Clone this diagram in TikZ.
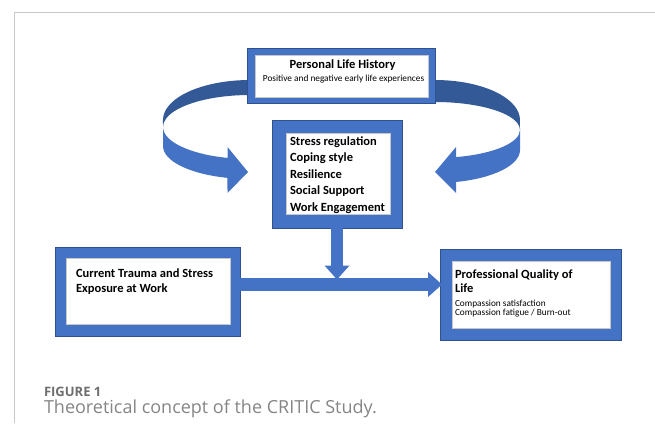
\documentclass[tikz,border=0pt]{standalone}
\usepackage{fontspec}
\setmainfont{Carlito}
\newfontfamily\capfont{Open Sans}
\usetikzlibrary{arrows.meta,calc}
\definecolor{boxblue}{HTML}{4472C4}
\definecolor{edgeblue}{HTML}{2F528F}
\definecolor{backblue}{HTML}{335A97}
\definecolor{framegray}{HTML}{C8C8C8}
\definecolor{capdark}{HTML}{6E6E6E}
\definecolor{caplight}{HTML}{858585}
\begin{document}
\begin{tikzpicture}[x=1pt,y=-1pt,
  outerbox/.style={fill=boxblue, draw=edgeblue, line width=0.6pt, inner sep=0pt, outer sep=0pt},
  innerbox/.style={fill=white, draw=black!22, line width=0.4pt, inner sep=0pt, outer sep=0pt},
  bigarrow/.style={draw=boxblue, line width=13pt, -{Triangle[width=25pt,length=14pt,line width=0pt]}},
  lbl/.style={inner sep=0pt, outer sep=0pt, text=black},
  headfont/.style={font=\bfseries\fontsize{12.5}{15}\selectfont},
  smallfont/.style={font=\fontsize{9.3}{10}\selectfont}]
\useasboundingbox (0,0) rectangle (655,423);
% frame
\draw[framegray, line width=1pt] (14.5,423) -- (14.5,12.5) -- (655,12.5);
% left ribbon arrow
\fill[backblue] (265.1,80.6) arc[start angle=280, end angle=180, x radius=87, y radius=40]
  -- (163,127) arc[start angle=180, end angle=280, x radius=87, y radius=32] -- cycle;
\fill[boxblue] (163,146) arc[start angle=180, end angle=105, x radius=87, y radius=33]
  -- (227.5,193) -- (248,172) -- (227.5,147) -- (227.5,157.9)
  arc[start angle=105, end angle=180, x radius=87, y radius=32] -- cycle;
% right ribbon arrow
\fill[backblue] (420.2,80.6) arc[start angle=260, end angle=360, x radius=85, y radius=40]
  -- (520,130) arc[start angle=360, end angle=260, x radius=85, y radius=28] -- cycle;
\fill[boxblue] (520,150) arc[start angle=0, end angle=75.7, x radius=85, y radius=33]
  -- (456,193) -- (435,172) -- (456,147) -- (456,157.1)
  arc[start angle=75.7, end angle=0, x radius=85, y radius=28] -- cycle;
% boxes
\node[outerbox, minimum width=188, minimum height=55] (plh) at (341,75.5) {};
\node[innerbox, minimum width=173, minimum height=42] (plhin) at (341.5,76) {};
\node[outerbox, minimum width=130, minimum height=108] (cbox) at (337,174) {};
\node[innerbox, minimum width=104, minimum height=81] (cboxin) at (338,173.5) {};
\node[outerbox, minimum width=185, minimum height=89] (lbox) at (147.5,291.5) {};
\node[innerbox, minimum width=164, minimum height=66] (lboxin) at (148,291) {};
\node[outerbox, minimum width=181, minimum height=91] (rbox) at (530.5,294.5) {};
\node[innerbox, minimum width=158, minimum height=67] (rboxin) at (531,294.5) {};
% arrows
\coordinate (hy) at (0,284.5);
\coordinate (htop) at (0,279.5);
\draw[bigarrow] (lbox.east |- hy) -- ([xshift=2]rbox.west |- hy);
\draw[bigarrow, line width=11.5pt] (cbox.south) -- (cbox.south |- htop);
% texts
\node[lbl, anchor=base, headfont] (t1) at (342.5,68.5) {Personal Life History};
\node[lbl, anchor=base, smallfont] (t2) at (343.5,81) {Positive and negative early life experiences};
\node[lbl, anchor=base west, headfont] (c1) at (290,145) {Stress regulation};
\node[lbl, anchor=base west, headfont] (c2) at (290,161.5) {Coping style};
\node[lbl, anchor=base west, headfont] (c3) at (290,178) {Resilience};
\node[lbl, anchor=base west, headfont] (c4) at (290,194.5) {Social Support};
\node[lbl, anchor=base west, headfont] (c5) at (290,211) {Work Engagement};
\node[lbl, anchor=base west, headfont] (l1) at (76,277.5) {Current Trauma and Stress};
\node[lbl, anchor=base west, headfont] (l2) at (76,292) {Exposure at Work};
\node[lbl, anchor=base west, headfont] (r1) at (455,278.3) {Professional Quality of};
\node[lbl, anchor=base west, headfont] (r2) at (455,292.3) {Life};
\node[lbl, anchor=base west, smallfont] (r3) at (455,306) {Compassion satisfaction};
\node[lbl, anchor=base west, smallfont] (r4) at (455,315.7) {Compassion fatigue / Burn-out};
% caption
\node[lbl, anchor=base west, text=capdark, font=\capfont\bfseries\fontsize{13}{15}\selectfont] (fig) at (44,396) {FIGURE 1};
\node[lbl, anchor=base west, text=caplight, font=\capfont\fontsize{18}{20}\selectfont] (cap) at (44,413) {Theoretical concept of the CRITIC Study.};
\end{tikzpicture}
\end{document}
